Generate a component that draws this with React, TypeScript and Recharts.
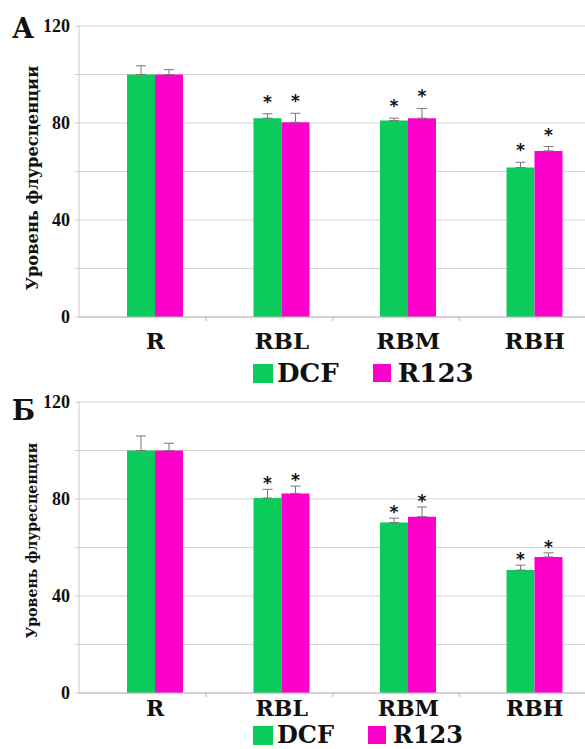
import { BarChart, Bar, XAxis, YAxis, CartesianGrid, ErrorBar, LabelList, Label } from "recharts";

const CATEGORIES = ["R", "RBL", "RBM", "RBH"];

// панель А
const DCF_A = [100, 82, 81, 61.6];
const DCF_A_ERR = [3.6, 1.8, 1, 2.2];
const R123_A = [100, 80.3, 82, 68.5];
const R123_A_ERR = [2, 3.7, 4, 1.8];
const SIG_A = [false, true, true, true];

// панель Б
const DCF_B = [100, 80.4, 70.3, 50.7];
const DCF_B_ERR = [6, 3.6, 1.8, 2];
const R123_B = [100, 82.3, 72.7, 56.1];
const R123_B_ERR = [3, 3, 4, 1.7];
const SIG_B = [false, true, true, true];

const Y_TICKS = [0, 20, 40, 60, 80, 100, 120];
const Y_LABELED = [0, 40, 80, 120];

const GREEN = "#0BCB5B";
const PINK = "#FF00CC";
const SERIF = "'DejaVu Serif', serif";
const TITLE = "Уровень флуресценции";

function rows(dcf: number[], dcfErr: number[], r123: number[], r123Err: number[], sig: boolean[]) {
  return CATEGORIES.map((cat, i) => ({
    cat,
    dcf: dcf[i],
    dcfErr: [0, dcfErr[i]],
    r123: r123[i],
    r123Err: [0, r123Err[i]],
    sig: sig[i],
  }));
}

const starContent = (errs: number[], sig: boolean[], offset: number) => (p: any) => {
  const i = p.index;
  if (i == null || !sig[i]) return null;
  const perUnit = p.height / p.value;
  const top = p.y - errs[i] * perUnit;
  return (
    <text x={p.x + p.width / 2} y={top - offset} textAnchor="middle" fontSize={17} fontWeight="bold" fontFamily="'DejaVu Sans', sans-serif" fill="#111">
      *
    </text>
  );
};

const xTick = (dy: number, size: number) => (p: any) => {
  const last = p.index === CATEGORIES.length - 1;
  return (
    <g>
      {!last && <line x1={p.x + 51} x2={p.x + 51} y1={p.y} y2={p.y + 4} stroke="#bbb" />}
      <text x={p.x} y={p.y + dy} textAnchor="middle" dominantBaseline="central" fontFamily={SERIF} fontWeight="bold" fontSize={size} fill="#111">
        {p.payload.value}
      </text>
    </g>
  );
};

type PanelProps = {
  top: number;
  letter: string;
  letterTop: number;
  data: ReturnType<typeof rows>;
  dcfErr: number[];
  r123Err: number[];
  sig: boolean[];
  titleSize: number;
  titleDy: number;
  starOffset: number;
  labelDy: number;
  labelSize: number;
  legendTop: number;
  legendSize: number;
};

function Legend2({ top, size }: { top: number; size: number }) {
  const txt = { fontFamily: SERIF, fontWeight: "bold" as const, fontSize: size, color: "#111", lineHeight: "22px" };
  return (
    <div style={{ position: "absolute", top, left: 253, display: "flex", alignItems: "center" }}>
      <div style={{ width: 20, height: 19, background: GREEN }} />
      <span style={{ ...txt, marginLeft: 4 }}>DCF</span>
      <div style={{ width: 18, height: 18, background: PINK, marginLeft: 34 }} />
      <span style={{ ...txt, marginLeft: 7 }}>R123</span>
    </div>
  );
}

function Panel(props: PanelProps) {
  const { top, letter, letterTop, data, dcfErr, r123Err, sig, titleSize, titleDy, starOffset, labelDy, labelSize, legendTop, legendSize } = props;
  return (
    <div style={{ position: "absolute", top, left: 0, width: 598, height: 370 }}>
      <BarChart width={598} height={370} data={data} margin={{ top: 26, right: 0, bottom: 0, left: 0 }} barGap={0}>
        <CartesianGrid vertical={false} stroke="#d4d4d4" />
        <XAxis
          dataKey="cat"
          height={53}
          padding={{ left: 13, right: 0 }}
          axisLine={{ stroke: "#bbb" }}
          tickLine={false}
          tickSize={0}
          tickMargin={0}
          tick={xTick(labelDy, labelSize)}
          interval={0}
        />
        <YAxis
          width={79}
          domain={[0, 120]}
          ticks={Y_TICKS}
          interval={0}
          axisLine={{ stroke: "#ccc" }}
          tickLine={{ stroke: "#ccc" }}
          tickSize={4}
          tickMargin={5}
          tickFormatter={(v: number) => (Y_LABELED.includes(v) ? String(v) : "")}
          tick={{ fontFamily: "'Liberation Serif', serif", fontWeight: "bold", fontSize: 18, fill: "#111" }}
        >
          <Label
            content={(lp: any) => {
              const vb = lp.viewBox || { x: 0, y: 26, width: 79, height: 291 };
              const cx = vb.x + 32;
              const cy = vb.y + vb.height / 2 + titleDy;
              return (
                <text x={cx} y={cy} transform={`rotate(-90, ${cx}, ${cy})`} textAnchor="middle" dominantBaseline="central" fontFamily={SERIF} fontWeight="bold" fontSize={titleSize} fill="#111">
                  {TITLE}
                </text>
              );
            }}
          />
        </YAxis>
        <Bar dataKey="dcf" fill={GREEN} barSize={28} isAnimationActive={false}>
          <ErrorBar dataKey="dcfErr" width={5} stroke="#777" strokeWidth={1} direction="y" />
          <LabelList dataKey="dcf" content={starContent(dcfErr, sig, starOffset)} />
        </Bar>
        <Bar dataKey="r123" fill={PINK} barSize={28} isAnimationActive={false}>
          <ErrorBar dataKey="r123Err" width={5} stroke="#777" strokeWidth={1} direction="y" />
          <LabelList dataKey="r123" content={starContent(r123Err, sig, starOffset)} />
        </Bar>
      </BarChart>
      <div style={{ position: "absolute", top: letterTop, left: 12, fontFamily: SERIF, fontWeight: "bold", fontSize: 27, color: "#111", lineHeight: "40px" }}>
        {letter}
      </div>
      <Legend2 top={legendTop} size={legendSize} />
    </div>
  );
}

export default function App() {
  const dataA = rows(DCF_A, DCF_A_ERR, R123_A, R123_A_ERR, SIG_A);
  const dataB = rows(DCF_B, DCF_B_ERR, R123_B, R123_B_ERR, SIG_B);
  return (
    <div style={{ position: "relative", width: 585, height: 749, overflow: "hidden", background: "#fff" }}>
      <style>{"body{margin:0}"}</style>
      <Panel top={0} letter="А" letterTop={9} data={dataA} dcfErr={DCF_A_ERR} r123Err={R123_A_ERR} sig={SIG_A} titleSize={16.3} titleDy={6.5} starOffset={6} labelDy={23} labelSize={23} legendTop={362} legendSize={26} />
      <Panel top={375.5} letter="Б" letterTop={15} data={dataB} dcfErr={DCF_B_ERR} r123Err={R123_B_ERR} sig={SIG_B} titleSize={14.2} titleDy={-7} starOffset={0} labelDy={15} labelSize={22} legendTop={348.5} legendSize={24} />
    </div>
  );
}
